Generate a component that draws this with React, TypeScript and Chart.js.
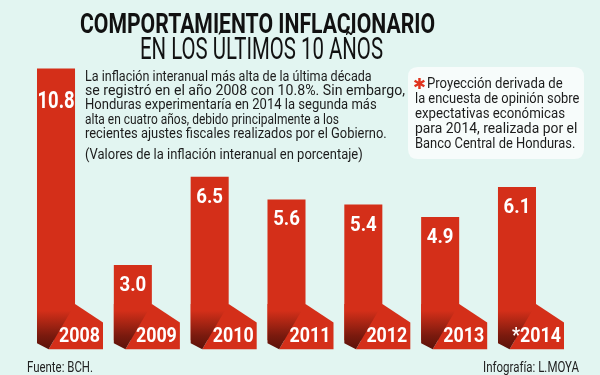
import React, { useEffect, useRef } from 'react';
import { Chart, registerables } from 'chart.js';

Chart.register(...registerables);

// ---- data ----
const years = ['2008', '2009', '2010', '2011', '2012', '2013', '*2014'];
const inflation = [10.8, 3.0, 6.5, 5.6, 5.4, 4.9, 6.1];
const yMin = 0;
const yMax = 12;

const titleLines = ['COMPORTAMIENTO INFLACIONARIO', 'EN LOS ÚLTIMOS 10 AÑOS'];
const introLines = [
  'La inflación interanual más alta de la última década',
  'se registró en el año 2008 con 10.8%. Sin embargo,',
  'Honduras experimentaría en 2014 la segunda más',
  'alta en cuatro años, debido principalmente a los',
  'recientes ajustes fiscales realizados por el Gobierno.',
];
const noteLine = '(Valores de la inflación interanual en porcentaje)';
const boxLines = [
  'Proyección derivada de',
  'la encuesta de opinión sobre',
  'expectativas económicas',
  'para 2014, realizada por el',
  'Banco Central de Honduras.',
];
const sourceText = 'Fuente: BCH.';
const creditText = 'Infografía: L.MOYA';

// ---- styles ----
const BG = '#e2f5f1';
const RED = '#d42f19';
const DARK = '#5a120a';
const INK = '#1c1c1c';

type Align = 'left' | 'center' | 'right';

function drawText(
  ctx: CanvasRenderingContext2D,
  text: string,
  x: number,
  y: number,
  font: string,
  color: string,
  align: Align,
  opts: { width?: number; sx?: number } = {}
) {
  ctx.save();
  ctx.font = font;
  ctx.fillStyle = color;
  ctx.textBaseline = 'alphabetic';
  ctx.textAlign = 'left';
  const w = ctx.measureText(text).width;
  const s = opts.width ? opts.width / w : opts.sx ?? 1;
  const ww = w * s;
  const x0 = align === 'left' ? x : align === 'center' ? x - ww / 2 : x - ww;
  ctx.translate(x0, y);
  ctx.scale(s, 1);
  ctx.fillText(text, 0, 0);
  ctx.restore();
}

function roundRect(ctx: CanvasRenderingContext2D, x: number, y: number, w: number, h: number, r: number) {
  ctx.beginPath();
  ctx.moveTo(x + r, y);
  ctx.lineTo(x + w - r, y);
  ctx.quadraticCurveTo(x + w, y, x + w, y + r);
  ctx.lineTo(x + w, y + h - r);
  ctx.quadraticCurveTo(x + w, y + h, x + w - r, y + h);
  ctx.lineTo(x + r, y + h);
  ctx.quadraticCurveTo(x, y + h, x, y + h - r);
  ctx.lineTo(x, y + r);
  ctx.quadraticCurveTo(x, y, x + r, y);
  ctx.closePath();
}

const decoPlugin = {
  id: 'deco',
  beforeDraw(chart: any) {
    const ctx: CanvasRenderingContext2D = chart.ctx;
    ctx.save();
    ctx.fillStyle = BG;
    ctx.fillRect(0, 0, chart.width, chart.height);
    ctx.restore();
  },
  afterDatasetsDraw(chart: any) {
    const ctx: CanvasRenderingContext2D = chart.ctx;
    const meta = chart.getDatasetMeta(0);
    const maxVal = Math.max(...inflation);
    meta.data.forEach((bar: any, i: number) => {
      const { x, y, base, width } = bar.getProps(['x', 'y', 'base', 'width'], true);
      const L = x - width / 2;
      const R = x + width / 2;
      const b = base;
      const topY = b - 36.6;
      const bottom = b + 8.7;
      ctx.save();
      // front face of the folded foot
      ctx.fillStyle = RED;
      ctx.beginPath();
      ctx.moveTo(R, topY);
      ctx.lineTo(R + 28, b - 18);
      ctx.lineTo(R + 28, bottom);
      ctx.lineTo(L + 11.6, bottom);
      ctx.closePath();
      ctx.fill();
      // shaded fold
      const g = ctx.createLinearGradient(0, topY, 0, bottom);
      g.addColorStop(0, RED);
      g.addColorStop(0.15, RED);
      g.addColorStop(0.7, '#7a1a0e');
      g.addColorStop(1, DARK);
      ctx.fillStyle = g;
      ctx.beginPath();
      ctx.moveTo(L, topY);
      ctx.lineTo(R, topY);
      ctx.lineTo(L + 11.6, bottom);
      ctx.lineTo(L, b + 2.7);
      ctx.closePath();
      ctx.fill();
      ctx.restore();

      // value label
      const v = inflation[i];
      const isMax = v === maxVal;
      drawText(
        ctx,
        v.toFixed(1),
        x,
        y + (isMax ? 40 : 26),
        isMax ? 'bold 24px Roboto' : 'bold 20px Roboto',
        '#ffffff',
        'center',
        { sx: isMax ? 0.77 : 0.93 }
      );
      // year label
      drawText(ctx, years[i], R + 25, b + 1.2, 'bold 21px Roboto', '#ffffff', 'right', { sx: 0.85 });
    });
  },
  afterDraw(chart: any) {
    const ctx: CanvasRenderingContext2D = chart.ctx;
    // title
    drawText(ctx, titleLines[0], 80, 33.3, 'bold 27px Roboto', '#111111', 'left', { width: 355 });
    drawText(ctx, titleLines[1], 140, 59.3, '400 31px Roboto', '#111111', 'left', { width: 243 });

    // intro paragraph
    const introX = 85;
    const introBase = [80.7, 95, 109.3, 123.6, 138];
    const introW = [286.7, 320, 291.7, 254, 301.7];
    introLines.forEach((t, i) => {
      drawText(ctx, t, introX, introBase[i], '14px Roboto', INK, 'left', { width: introW[i] });
    });
    drawText(ctx, noteLine, introX, 159, '14px Roboto', INK, 'left', { width: 277.7 });

    // note box
    ctx.save();
    ctx.fillStyle = 'rgba(255,255,255,0.72)';
    roundRect(ctx, 408, 67, 176, 92, 10);
    ctx.fill();
    ctx.restore();
    drawText(ctx, '✱', 413, 89, 'bold 15px "DejaVu Sans"', '#e0341f', 'left', { width: 13 });
    const boxBase = [88.3, 103.3, 118.3, 133, 147.7];
    const boxX = [427, 415, 415, 415, 415];
    const boxW = [135.7, 164.3, 150, 162.3, 160.3];
    boxLines.forEach((t, i) => {
      drawText(ctx, t, boxX[i], boxBase[i], '14px Roboto', INK, 'left', { width: boxW[i] });
    });

    // footer
    drawText(ctx, sourceText, 27, 372, '14px Roboto', '#222222', 'left', { width: 66 });
    drawText(ctx, creditText, 483, 372, '14px Roboto', '#222222', 'left', { width: 96 });
  },
};

export default function App() {
  const ref = useRef<HTMLCanvasElement | null>(null);
  useEffect(() => {
    if (!ref.current) return;
    const chart = new Chart(ref.current, {
      type: 'bar',
      data: {
        labels: years,
        datasets: [
          {
            data: inflation,
            backgroundColor: RED,
            borderWidth: 0,
            barPercentage: 0.495,
            categoryPercentage: 1,
          },
        ],
      },
      options: {
        animation: false,
        responsive: false,
        events: [],
        layout: { padding: { left: 17.6, right: 44.6, top: 38.2, bottom: 34.4 } },
        plugins: {
          legend: { display: false },
          tooltip: { enabled: false },
          title: { display: false },
        },
        scales: {
          x: { display: false },
          y: { display: false, min: yMin, max: yMax },
        },
      },
      plugins: [decoPlugin],
    } as any);
    const fonts: any = (document as any).fonts;
    if (fonts && fonts.ready) fonts.ready.then(() => chart.draw());
    return () => chart.destroy();
  }, []);
  return (
    <div style={{ position: 'fixed', left: 0, top: 0, width: 600, height: 375, background: BG }}>
      <canvas ref={ref} width={600} height={375} style={{ display: 'block' }} />
    </div>
  );
}
